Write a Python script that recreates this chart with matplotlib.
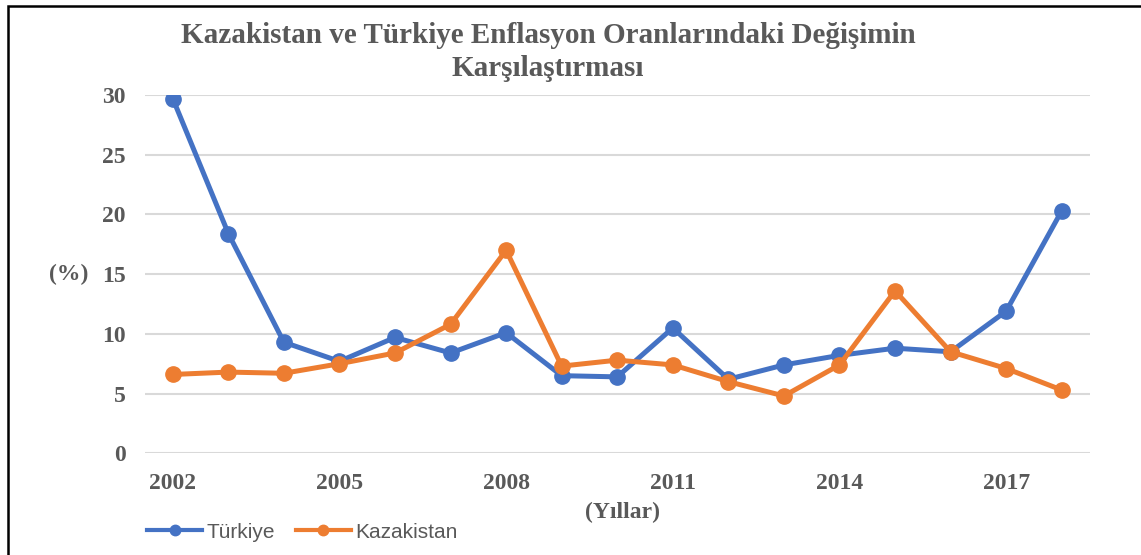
"""Kazakistan ve Türkiye enflasyon karşılaştırması - line chart."""

import matplotlib
matplotlib.use("Agg")
import matplotlib.pyplot as plt
from matplotlib.lines import Line2D
from matplotlib.patches import Rectangle

years = list(range(2002, 2019))
turkiye = [29.7, 18.4, 9.3, 7.7, 9.7, 8.4, 10.1, 6.5, 6.4, 10.5,
           6.2, 7.4, 8.2, 8.8, 8.5, 11.9, 20.3]
kazakistan = [6.6, 6.8, 6.7, 7.5, 8.4, 10.8, 17.0, 7.3, 7.8, 7.4,
              6.0, 4.8, 7.4, 13.6, 8.5, 7.1, 5.3]
xtick_years = [2002, 2005, 2008, 2011, 2014, 2017]
yticks = [0, 5, 10, 15, 20, 25, 30]
title_lines = ["Kazakistan ve Türkiye Enflasyon Oranlarındaki Değişimin",
               "Karşılaştırması"]

BLUE = "#4472C4"
ORANGE = "#ED7D31"
TEXT = "#595959"
GRID = "#D9D9D9"
SERIF = "Liberation Serif"
SANS = "Liberation Sans"

W, H = 1141, 555
fig = plt.figure(figsize=(W / 100, H / 100), dpi=100)
ax = fig.add_axes([145 / W, (H - 453.3) / H, 944.5 / W, 358.3 / H])

ax.plot(years, turkiye, color=BLUE, lw=3.6, marker="o", ms=11,
        solid_joinstyle="round", zorder=3)
ax.plot(years, kazakistan, color=ORANGE, lw=3.6, marker="o", ms=11,
        solid_joinstyle="round", zorder=4)

ax.set_xlim(years[0] - 0.5, years[-1] + 0.5)
ax.set_ylim(0, 30)
ax.set_yticks(yticks)
ax.set_xticks(xtick_years)
ax.grid(axis="y", color=GRID, lw=1.5)
ax.set_axisbelow(True)
for s in ax.spines.values():
    s.set_visible(False)
ax.tick_params(length=0, labelcolor=TEXT, labelsize=17)
ax.tick_params(axis="x", pad=14)
ax.tick_params(axis="y", pad=14)
for lab in ax.get_xticklabels() + ax.get_yticklabels():
    lab.set_fontfamily(SERIF)
    lab.set_fontweight("bold")

ax.set_ylabel("(%)", rotation=0, fontsize=17, fontfamily=SERIF,
              fontweight="bold", color=TEXT, ha="center", va="center")
ax.yaxis.set_label_coords(-0.081, 0.5)
ax.set_xlabel("(Yıllar)", fontsize=17, fontfamily=SERIF,
              fontweight="bold", color=TEXT, ha="center", va="center")
ax.xaxis.set_label_coords(0.506, -0.164)

for i, line in enumerate(title_lines):
    fig.text(548 / W, (H - 43 - 33 * i) / H, line, ha="center", va="baseline",
             fontsize=21, fontfamily=SERIF, fontweight="bold", color=TEXT)

handles = [Line2D([], [], color=BLUE, lw=3, marker="o", ms=7.5),
           Line2D([], [], color=ORANGE, lw=3, marker="o", ms=7.5)]
leg = fig.legend(handles, ["Türkiye", "Kazakistan"], loc="center left",
                 bbox_to_anchor=(147 / W, (H - 532) / H), ncol=2,
                 frameon=False, borderpad=0, borderaxespad=0,
                 handlelength=2.65, handletextpad=0.2, columnspacing=1.0,
                 prop={"family": SANS, "size": 15})
for t in leg.get_texts():
    t.set_color(TEXT)

# outer chart frame (right and bottom edges fall outside the picture)
fig.patches.append(Rectangle((8 / W, -0.1), 1.2, (H - 6) / H + 0.1,
                             transform=fig.transFigure, fill=False,
                             edgecolor="black", lw=1.8))

fig.savefig("out.png", dpi=100)
